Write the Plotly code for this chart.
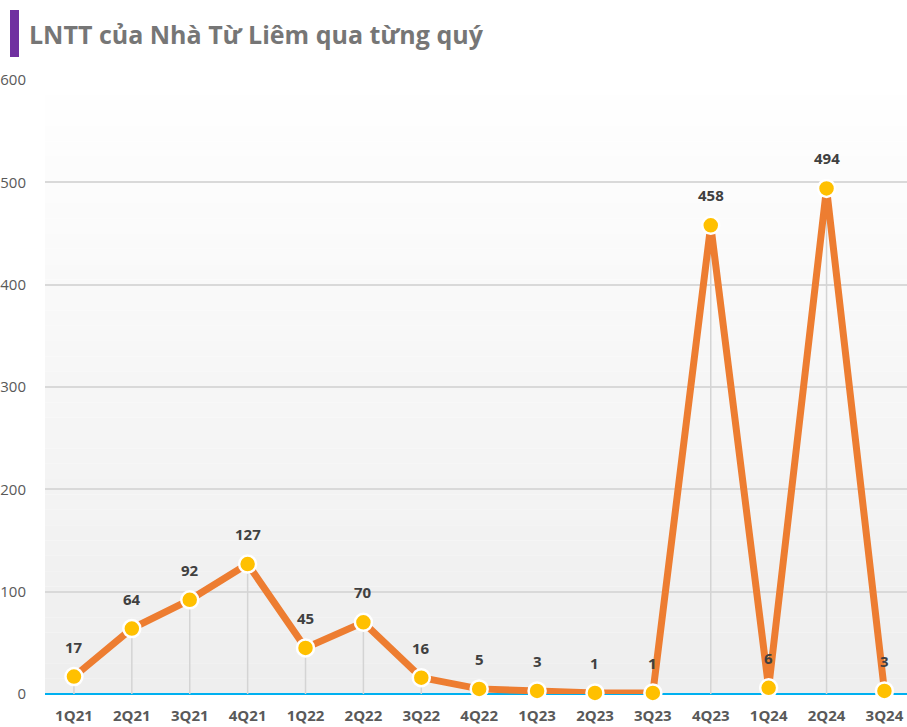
import plotly.graph_objects as go

quarters = ["1Q21", "2Q21", "3Q21", "4Q21", "1Q22", "2Q22", "3Q22", "4Q22",
            "1Q23", "2Q23", "3Q23", "4Q23", "1Q24", "2Q24", "3Q24"]
profit = [17, 64, 92, 127, 45, 70, 16, 5, 3, 1, 1, 458, 6, 494, 3]
y_ticks = [0, 100, 200, 300, 400, 500, 600]
title_text = "LNTT của Nhà Từ Liêm qua từng quý"

W, H = 907, 727
ML, MR, MT, MB = 45, 0, 80, 33

fig = go.Figure()

# vertical drop lines from each point to zero
fig.add_trace(go.Scatter(
    x=quarters, y=profit, mode="markers",
    marker=dict(size=1, color="rgba(0,0,0,0)"),
    error_y=dict(type="data", symmetric=False, array=[0] * len(profit),
                 arrayminus=profit, color="#d4d4d4", thickness=1.5, width=0),
    hoverinfo="skip", showlegend=False, cliponaxis=False,
))

fig.add_trace(go.Scatter(
    x=quarters, y=profit, mode="lines+markers",
    line=dict(color="#ED7D31", width=7),
    marker=dict(size=17, color="#FFC000", line=dict(color="white", width=2.5)),
    showlegend=False, cliponaxis=False,
))

annotations = [
    dict(x=q, y=v, text=str(v), showarrow=False, yshift=30,
         font=dict(family="Open Sans", size=15, color="#404040", weight="bold"))
    for q, v in zip(quarters, profit)
]

# gradient plot background as bands
shapes = []
n = 40
for i in range(n):
    t = i / n
    c = int(255 - (255 - 238) * t)
    shapes.append(dict(type="rect", xref="paper", yref="paper",
                       x0=0, x1=1, y0=1 - (i + 1) / n, y1=1 - i / n,
                       fillcolor=f"rgb({c},{c},{c})", line=dict(width=0),
                       layer="below"))
# purple title bar
pw = W - ML - MR
ph = H - MT - MB
shapes.append(dict(type="rect", xref="paper", yref="paper",
                   x0=(10 - ML) / pw, x1=(19 - ML) / pw,
                   y0=(H - MB - 57) / ph, y1=(H - MB - 10) / ph,
                   fillcolor="#7030A0", line=dict(width=0)))

fig.update_layout(
    width=W, height=H,
    margin=dict(l=ML, r=MR, t=MT, b=MB),
    paper_bgcolor="white", plot_bgcolor="white",
    shapes=shapes, annotations=annotations,
    title=dict(text=title_text, xref="container", yref="container",
               x=29 / W, xanchor="left", y=1 - 35 / H, yanchor="middle",
               font=dict(family="Open Sans", size=25, color="#767676", weight="bold")),
    font=dict(family="Open Sans"),
)

fig.update_xaxes(
    type="category", categoryorder="array", categoryarray=quarters,
    range=[-0.5, 14.39], showgrid=False, zeroline=False, showline=False,
    ticks="outside", ticklen=8, tickcolor="rgba(0,0,0,0)",
    tickfont=dict(family="Open Sans", size=15, color="#595959", weight="bold"),
)
fig.update_yaxes(
    range=[0, 600], tickvals=y_ticks, showgrid=True, gridcolor="#d9d9d9",
    gridwidth=1.5, zeroline=True, zerolinecolor="#00B0F0", zerolinewidth=2,
    ticks="outside", ticklen=15, tickcolor="rgba(0,0,0,0)",
    tickfont=dict(family="Open Sans", size=15, color="#595959"),
)

fig.write_html("out.html", config={"displayModeBar": False},
               post_script="document.body.style.margin='0';")
